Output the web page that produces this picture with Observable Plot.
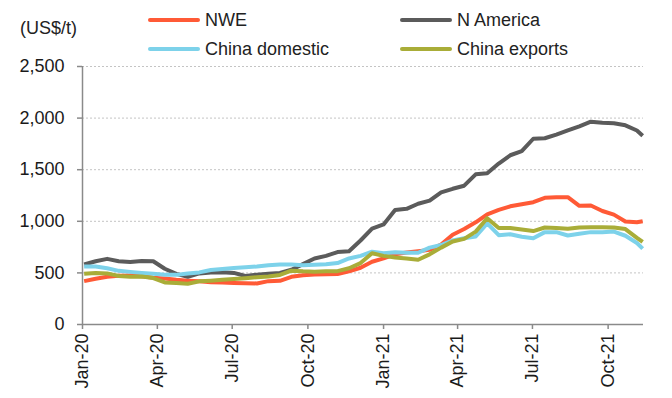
<!DOCTYPE html>
<html>
<head>
<meta charset="utf-8">
<script src="https://cdn.jsdelivr.net/npm/d3@7"></script>
<script src="https://cdn.jsdelivr.net/npm/@observablehq/plot@0.6"></script>
<style>
  html, body { margin: 0; padding: 0; background: #fff; }
  body { width: 672px; height: 398px; overflow: hidden; font-family: "Liberation Sans", Arial, sans-serif; color: #222; }
  #legend { position: relative; width: 672px; height: 56px; font-size: 18px; }
  #legend .unit { position: absolute; left: 20px; top: 18px; line-height: 21px; }
  #legend .item { position: absolute; line-height: 21px; white-space: nowrap; }
  #legend .sw { display: inline-block; width: 52px; height: 4px; border-radius: 2px; vertical-align: middle; margin-right: 5px; position: relative; top: -1px; }
</style>
</head>
<body>
<div id="legend"></div>
<div id="chart"></div>
<script>
const dates = [
  "2020-01-03","2020-01-17","2020-01-31","2020-02-14","2020-02-28","2020-03-13","2020-03-27",
  "2020-04-10","2020-04-24","2020-05-08","2020-05-22","2020-06-05","2020-06-19","2020-07-03",
  "2020-07-17","2020-07-31","2020-08-14","2020-08-28","2020-09-11","2020-09-25","2020-10-09",
  "2020-10-23","2020-11-06","2020-11-20","2020-12-04","2020-12-18","2021-01-01","2021-01-15",
  "2021-01-29","2021-02-12","2021-02-26","2021-03-12","2021-03-26","2021-04-09","2021-04-23",
  "2021-05-07","2021-05-21","2021-06-04","2021-06-18","2021-07-02","2021-07-16","2021-07-30",
  "2021-08-13","2021-08-27","2021-09-10","2021-09-24","2021-10-08","2021-10-22","2021-11-05",
  "2021-11-12"
];
const nwe = [
  420,443,462,472,475,468,452,445,433,425,418,410,406,402,400,398,420,423,462,478,
  484,488,489,515,550,608,640,680,698,710,723,775,870,925,990,1068,1110,1145,1165,1185,
  1228,1234,1234,1150,1153,1100,1065,998,990,1000
];
const nAmerica = [
  581,613,636,613,606,615,613,540,490,462,495,505,507,500,470,482,492,500,530,585,
  640,665,702,710,814,930,970,1110,1121,1170,1200,1280,1315,1345,1455,1465,1560,1640,1680,1800,
  1805,1840,1880,1920,1965,1955,1950,1930,1880,1830
];
const chinaDomestic = [
  562,562,545,520,510,500,491,483,481,495,505,528,538,548,555,562,575,581,581,574,
  578,583,595,640,665,705,690,700,695,695,745,770,815,835,853,980,865,875,850,835,
  895,895,862,880,895,895,900,860,790,735
];
const chinaExports = [
  491,500,495,470,462,465,450,408,403,395,418,425,433,440,449,458,465,480,522,515,
  512,515,517,545,595,690,665,650,640,628,680,745,805,830,900,1030,935,935,920,905,
  940,935,927,940,943,943,940,925,840,800
];
const seriesNames = ["NWE", "N America", "China domestic", "China exports"];
const seriesValues = [nwe, nAmerica, chinaDomestic, chinaExports];
const seriesColors = ["#ff5a36", "#5b5b5b", "#7dd2ea", "#a9ad38"];
const yTicks = [0, 500, 1000, 1500, 2000, 2500];
const xTickDates = ["2020-01-01","2020-04-01","2020-07-01","2020-10-01","2021-01-01","2021-04-01","2021-07-01","2021-10-01"];
const xTickLabels = ["Jan-20","Apr-20","Jul-20","Oct-20","Jan-21","Apr-21","Jul-21","Oct-21"];
const xDomain = ["2020-01-01", "2021-11-13"];
const unitLabel = "(US$/t)";

// legend
const legend = document.getElementById("legend");
const unit = document.createElement("div");
unit.className = "unit"; unit.textContent = unitLabel; legend.appendChild(unit);
const legendPos = [[148, 10], [400, 10], [148, 39], [400, 39]];
seriesNames.forEach((name, i) => {
  const it = document.createElement("div");
  it.className = "item";
  it.style.left = legendPos[i][0] + "px";
  it.style.top = legendPos[i][1] + "px";
  const sw = document.createElement("span");
  sw.className = "sw"; sw.style.background = seriesColors[i];
  it.appendChild(sw);
  it.appendChild(document.createTextNode(name));
  legend.appendChild(it);
});

const data = [];
seriesNames.forEach((name, s) => {
  dates.forEach((d, i) => data.push({date: new Date(d), value: seriesValues[s][i], series: name}));
});
const tickDates = xTickDates.map(d => new Date(d));
const labelOf = new Map(tickDates.map((d, i) => [+d, xTickLabels[i]]));
const x0 = new Date(xDomain[0]);

const chart = Plot.plot({
  width: 672,
  height: 342,
  marginLeft: 82,
  marginRight: 29,
  marginTop: 10,
  marginBottom: 74,
  style: {fontFamily: "'Liberation Sans', Arial, sans-serif", fontSize: "18px", color: "#1a1a1a", background: "#fff", overflow: "visible"},
  x: {type: "utc", domain: xDomain.map(d => new Date(d))},
  y: {domain: [0, 2500]},
  color: {domain: seriesNames, range: seriesColors},
  marks: [
    Plot.gridY(yTicks.slice(1), {stroke: "#c4c4c4", strokeOpacity: 1, strokeDasharray: "2,2"}),
    Plot.line(data, {x: "date", y: "value", stroke: "series", z: "series", strokeWidth: 4, strokeLinejoin: "round", strokeLinecap: "butt"}),
    Plot.ruleY([0], {stroke: "#8a8a8a", strokeWidth: 1.5}),
    Plot.ruleX([x0], {stroke: "#8a8a8a", strokeWidth: 1.5}),
    Plot.axisY({ticks: yTicks, tickFormat: d3.format(","), tickSize: 5, tickPadding: 13, stroke: "#8a8a8a", strokeWidth: 1.5, label: null}),
    Plot.axisX({ticks: tickDates, tickFormat: d => labelOf.get(+d), tickRotate: -90, tickSize: 5, tickPadding: 4, stroke: "#8a8a8a", strokeWidth: 1.5, label: null})
  ]
});
document.getElementById("chart").appendChild(chart);
</script>
</body>
</html>
